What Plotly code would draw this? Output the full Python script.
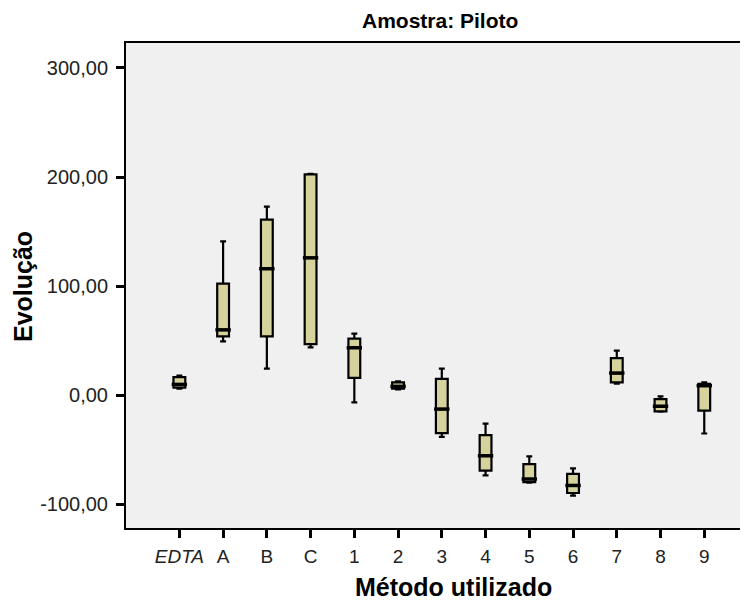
import plotly.graph_objects as go

categories = ["<i>EDTA</i>", "A", "B", "C", "1", "2", "3", "4", "5", "6", "7", "8", "9"]
lower_whisker = [6, 49.4, 24.4, 44, -6.5, 5.5, -38, -73.4, -80, -92, 10.6, -15, -35]
q1_values = [7, 54, 54, 47, 16, 6, -34.6, -69, -79.5, -89.5, 11.8, -14.7, -14]
median_values = [10, 60, 116, 126, 43.6, 8.2, -12.6, -55.4, -76.7, -82.6, 20.4, -10, 8.8]
q3_values = [16.6, 102.3, 161, 202.5, 52, 11.8, 15, -36.4, -63, -72, 34, -3.4, 10.6]
upper_whisker = [18, 141, 173, 203, 56.5, 12.7, 24.4, -26, -56, -67, 41, -1, 11.8]

y_tick_values = [300, 200, 100, 0, -100]
y_tick_labels = ["300,00", "200,00", "100,00", "0,00", "-100,00"]

positions = list(range(len(categories)))

# the page body adds an 8px offset; work in window pixels and subtract it
OFF = 8
W, H = 748 - OFF, 603 - OFF
L, T = 126 - OFF, 43 - OFF
R = 0
B = H - (528 - OFF)

fig = go.Figure()
fig.add_trace(go.Box(
    x=positions,
    q1=q1_values,
    median=median_values,
    q3=q3_values,
    lowerfence=lower_whisker,
    upperfence=upper_whisker,
    width=0.27,
    whiskerwidth=0.5,
    fillcolor="#D6D29B",
    line=dict(color="black", width=2.2),
    boxpoints=False,
    showlegend=False,
    hoverinfo="skip",
))
# thicker median bars, as in the reference
fig.add_trace(go.Scatter(
    x=positions,
    y=median_values,
    mode="markers",
    marker=dict(symbol="line-ew", size=11, line=dict(color="black", width=3.5)),
    showlegend=False,
    hoverinfo="skip",
))

font_family = "Arial, Liberation Sans, sans-serif"

def px_x(px):
    return (px - OFF - L) / (W - L - R)

def px_y(py):
    return 1 - (py - OFF - T) / (H - T - B)

fig.update_layout(
    width=W,
    height=H,
    autosize=False,
    margin=dict(l=L, r=R, t=T, b=B, pad=0),
    paper_bgcolor="white",
    plot_bgcolor="#F0F0F0",
    font=dict(family=font_family, color="#111111"),
    xaxis=dict(
        range=[-1.22, 13.0],
        tickmode="array",
        tickvals=positions,
        ticktext=categories,
        ticks="outside",
        ticklen=8,
        tickwidth=2.5,
        tickcolor="black",
        showline=True,
        linecolor="black",
        linewidth=2,
        mirror=True,
        showgrid=False,
        zeroline=False,
        automargin=False,
        ticklabelstandoff=2,
        tickfont=dict(size=19, color="#222222"),
    ),
    yaxis=dict(
        range=[-121.6, 322.9],
        tickmode="array",
        tickvals=y_tick_values,
        ticktext=y_tick_labels,
        ticks="outside",
        ticklen=8,
        tickwidth=2.5,
        tickcolor="black",
        showline=True,
        linecolor="black",
        linewidth=2,
        showgrid=False,
        zeroline=False,
        automargin=False,
        ticklabelstandoff=4,
        tickfont=dict(size=20, color="#222222"),
    ),
    annotations=[
        dict(text="<b>Amostra: Piloto</b>", xref="paper", yref="paper",
             x=px_x(440), y=px_y(21), xanchor="center", yanchor="middle",
             showarrow=False, font=dict(size=21, color="black", family=font_family)),
        dict(text="<b>Método utilizado</b>", xref="paper", yref="paper",
             x=px_x(453), y=px_y(587), xanchor="center", yanchor="middle",
             showarrow=False, font=dict(size=25, color="black", family=font_family)),
        dict(text="<b>Evolução</b>", xref="paper", yref="paper",
             x=px_x(23), y=px_y(287), xanchor="center", yanchor="middle",
             textangle=-90,
             showarrow=False, font=dict(size=25, color="black", family=font_family)),
    ],
)

fig.write_html("out.html")
